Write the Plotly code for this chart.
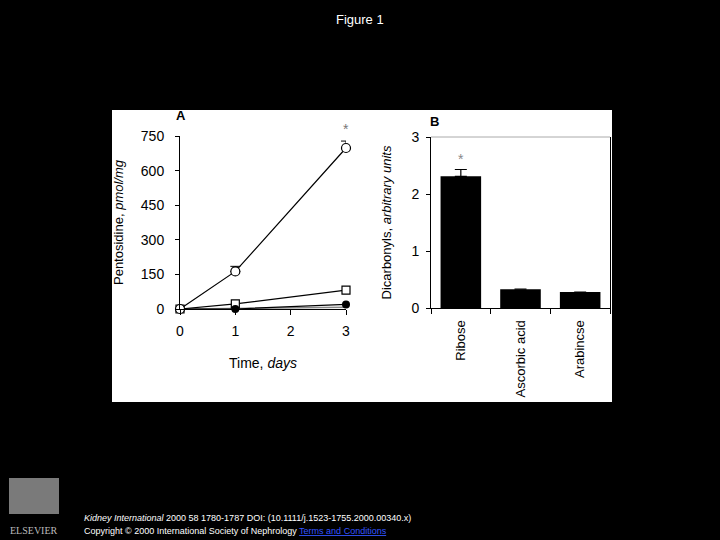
import plotly.graph_objects as go

# ---- data ----
days = [0, 1, 3]
ribose = [0, 163, 698]
ribose_err = [0, 22, 30]
series_square = [0, 22, 82]
series_filled = [0, 0, 20]
series_gray = [0, 3, 8]

categories = ["Ribose", "Ascorbic acid", "Arabincse"]
dicarbonyls = [2.31, 0.33, 0.28]
dicarbonyls_err = [0.12, 0, 0]

W, H = 720, 540
def px(x): return x / W
def py(y): return 1 - y / H

FONT = "Liberation Sans, Arial, sans-serif"

fig = go.Figure()

# Panel A
fig.add_trace(go.Scatter(x=days, y=series_gray, mode="lines",
                         line=dict(color="#888888", width=1.5), xaxis="x", yaxis="y",
                         showlegend=False, cliponaxis=False))
fig.add_trace(go.Scatter(x=days, y=series_square, mode="lines+markers",
                         line=dict(color="black", width=1.2),
                         marker=dict(symbol="square", size=8, color="white",
                                     line=dict(color="black", width=1.2)),
                         xaxis="x", yaxis="y", showlegend=False, cliponaxis=False))
fig.add_trace(go.Scatter(x=days, y=series_filled, mode="lines+markers",
                         line=dict(color="black", width=1.2),
                         marker=dict(symbol="circle", size=8, color="black"),
                         xaxis="x", yaxis="y", showlegend=False, cliponaxis=False))
fig.add_trace(go.Scatter(x=days, y=ribose, mode="lines+markers",
                         line=dict(color="black", width=1.2),
                         marker=dict(symbol="circle", size=9, color="white",
                                     line=dict(color="black", width=1.2)),
                         error_y=dict(type="data", array=ribose_err, arrayminus=[0, 0, 0],
                                      color="black", thickness=1, width=5),
                         xaxis="x", yaxis="y", showlegend=False, cliponaxis=False))

# Panel B
fig.add_trace(go.Bar(x=categories, y=dicarbonyls, marker=dict(color="black", line=dict(width=0)),
                     width=0.68,
                     error_y=dict(type="data", array=dicarbonyls_err, arrayminus=[0, 0, 0],
                                  color="black", thickness=1.2, width=6),
                     xaxis="x2", yaxis="y2", showlegend=False))

tickfont = dict(family=FONT, size=14, color="black")

fig.update_layout(
    width=W, height=H,
    margin=dict(l=0, r=0, t=0, b=0, autoexpand=False),
    paper_bgcolor="black",
    plot_bgcolor="white",
    xaxis=dict(domain=[px(180), px(346)], range=[0, 3], tickvals=[0, 1, 2, 3],
               showline=True, linecolor="black", linewidth=1, ticks="outside",
               ticklen=5, tickcolor="black", showgrid=False, zeroline=False,
               tickfont=tickfont, ticklabelstandoff=4, automargin=False,
               title=dict(text="Time, <i>days</i>", font=dict(family=FONT, size=14, color="black"),
                          standoff=20),
               anchor="y"),
    yaxis=dict(domain=[py(309), py(136)], range=[0, 750], tickvals=[0, 150, 300, 450, 600, 750],
               showline=True, linecolor="black", linewidth=1, ticks="outside",
               ticklen=4, tickcolor="black", showgrid=False, zeroline=False,
               tickfont=tickfont, ticklabelstandoff=8, automargin=False,
               title=dict(text="Pentosidine, <i>pmol/mg</i>", font=dict(family=FONT, size=13, color="black"),
                          standoff=14),
               anchor="x"),
    xaxis2=dict(domain=[px(431), px(610)], range=[-0.5, 2.5],
                showline=True, linecolor="black", linewidth=1, ticks="outside",
                tickson="boundaries", ticklen=5, tickcolor="black", showgrid=False,
                zeroline=False, tickangle=-90, tickfont=dict(family=FONT, size=13, color="black"),
                ticklabelstandoff=6, automargin=False, anchor="y2"),
    yaxis2=dict(domain=[py(308), py(137)], range=[0, 3], tickvals=[0, 1, 2, 3],
                showline=True, linecolor="black", linewidth=1, ticks="outside",
                ticklen=4, tickcolor="black", showgrid=False, zeroline=False,
                mirror=True, automargin=False,
                tickfont=tickfont, ticklabelstandoff=4,
                title=dict(text="Dicarbonyls, <i>arbitrary units</i>", font=dict(family=FONT, size=13, color="black"),
                           standoff=16),
                anchor="x2"),
)

shapes = [
    # white panel
    dict(type="rect", xref="paper", yref="paper", x0=px(112), x1=px(612), y0=py(402), y1=py(110),
         fillcolor="white", line=dict(width=0), layer="below"),
    # top frame line panel B
    dict(type="line", xref="x2 domain", yref="paper", x0=0, x1=1, y0=py(137), y1=py(137),
         line=dict(color="#aaaaaa", width=1)),
    # Elsevier logo block (approximation)
    dict(type="rect", xref="paper", yref="paper", x0=px(9), x1=px(59), y0=py(514), y1=py(478),
         fillcolor="#7a7a7a", line=dict(width=0), layer="below"),
]
fig.update_layout(shapes=shapes)

def ann(text, x, y, size, color, xanchor="center", family=FONT, xref="paper", yref="paper", yshift=0):
    return dict(text=text, x=x, y=y, xref=xref, yref=yref, xanchor=xanchor, yanchor="middle",
                showarrow=False, yshift=yshift, font=dict(family=family, size=size, color=color))

annotations = [
    ann("Figure 1", 0.5, py(19), 13, "white"),
    ann("<b>A</b>", px(181), py(116), 13, "black"),
    ann("<b>B</b>", px(434), py(122), 13, "black"),
    ann("*", 3, 698 + 30, 14, "#777777", xref="x", yref="y", yshift=12),
    ann("*", "Ribose", 2.43, 14, "#888888", xref="x2", yref="y2", yshift=10),
    ann("ELSEVIER", px(34), py(530), 10, "#bbbbbb", family="Liberation Serif, serif"),
    ann("<i>Kidney International</i> 2000 58 1780-1787 DOI: (10.1111/j.1523-1755.2000.00340.x)",
        px(82), py(518), 9, "white", xanchor="left"),
    ann("Copyright © 2000 International Society of Nephrology <span style='color:#3355ff'><u>Terms and Conditions</u></span>",
        px(82), py(531), 9, "white", xanchor="left"),
]
fig.update_layout(annotations=annotations)

fig.write_html("out.html", config={"displayModeBar": False},
               post_script="document.body.style.margin='0';document.body.style.overflow='hidden';")
